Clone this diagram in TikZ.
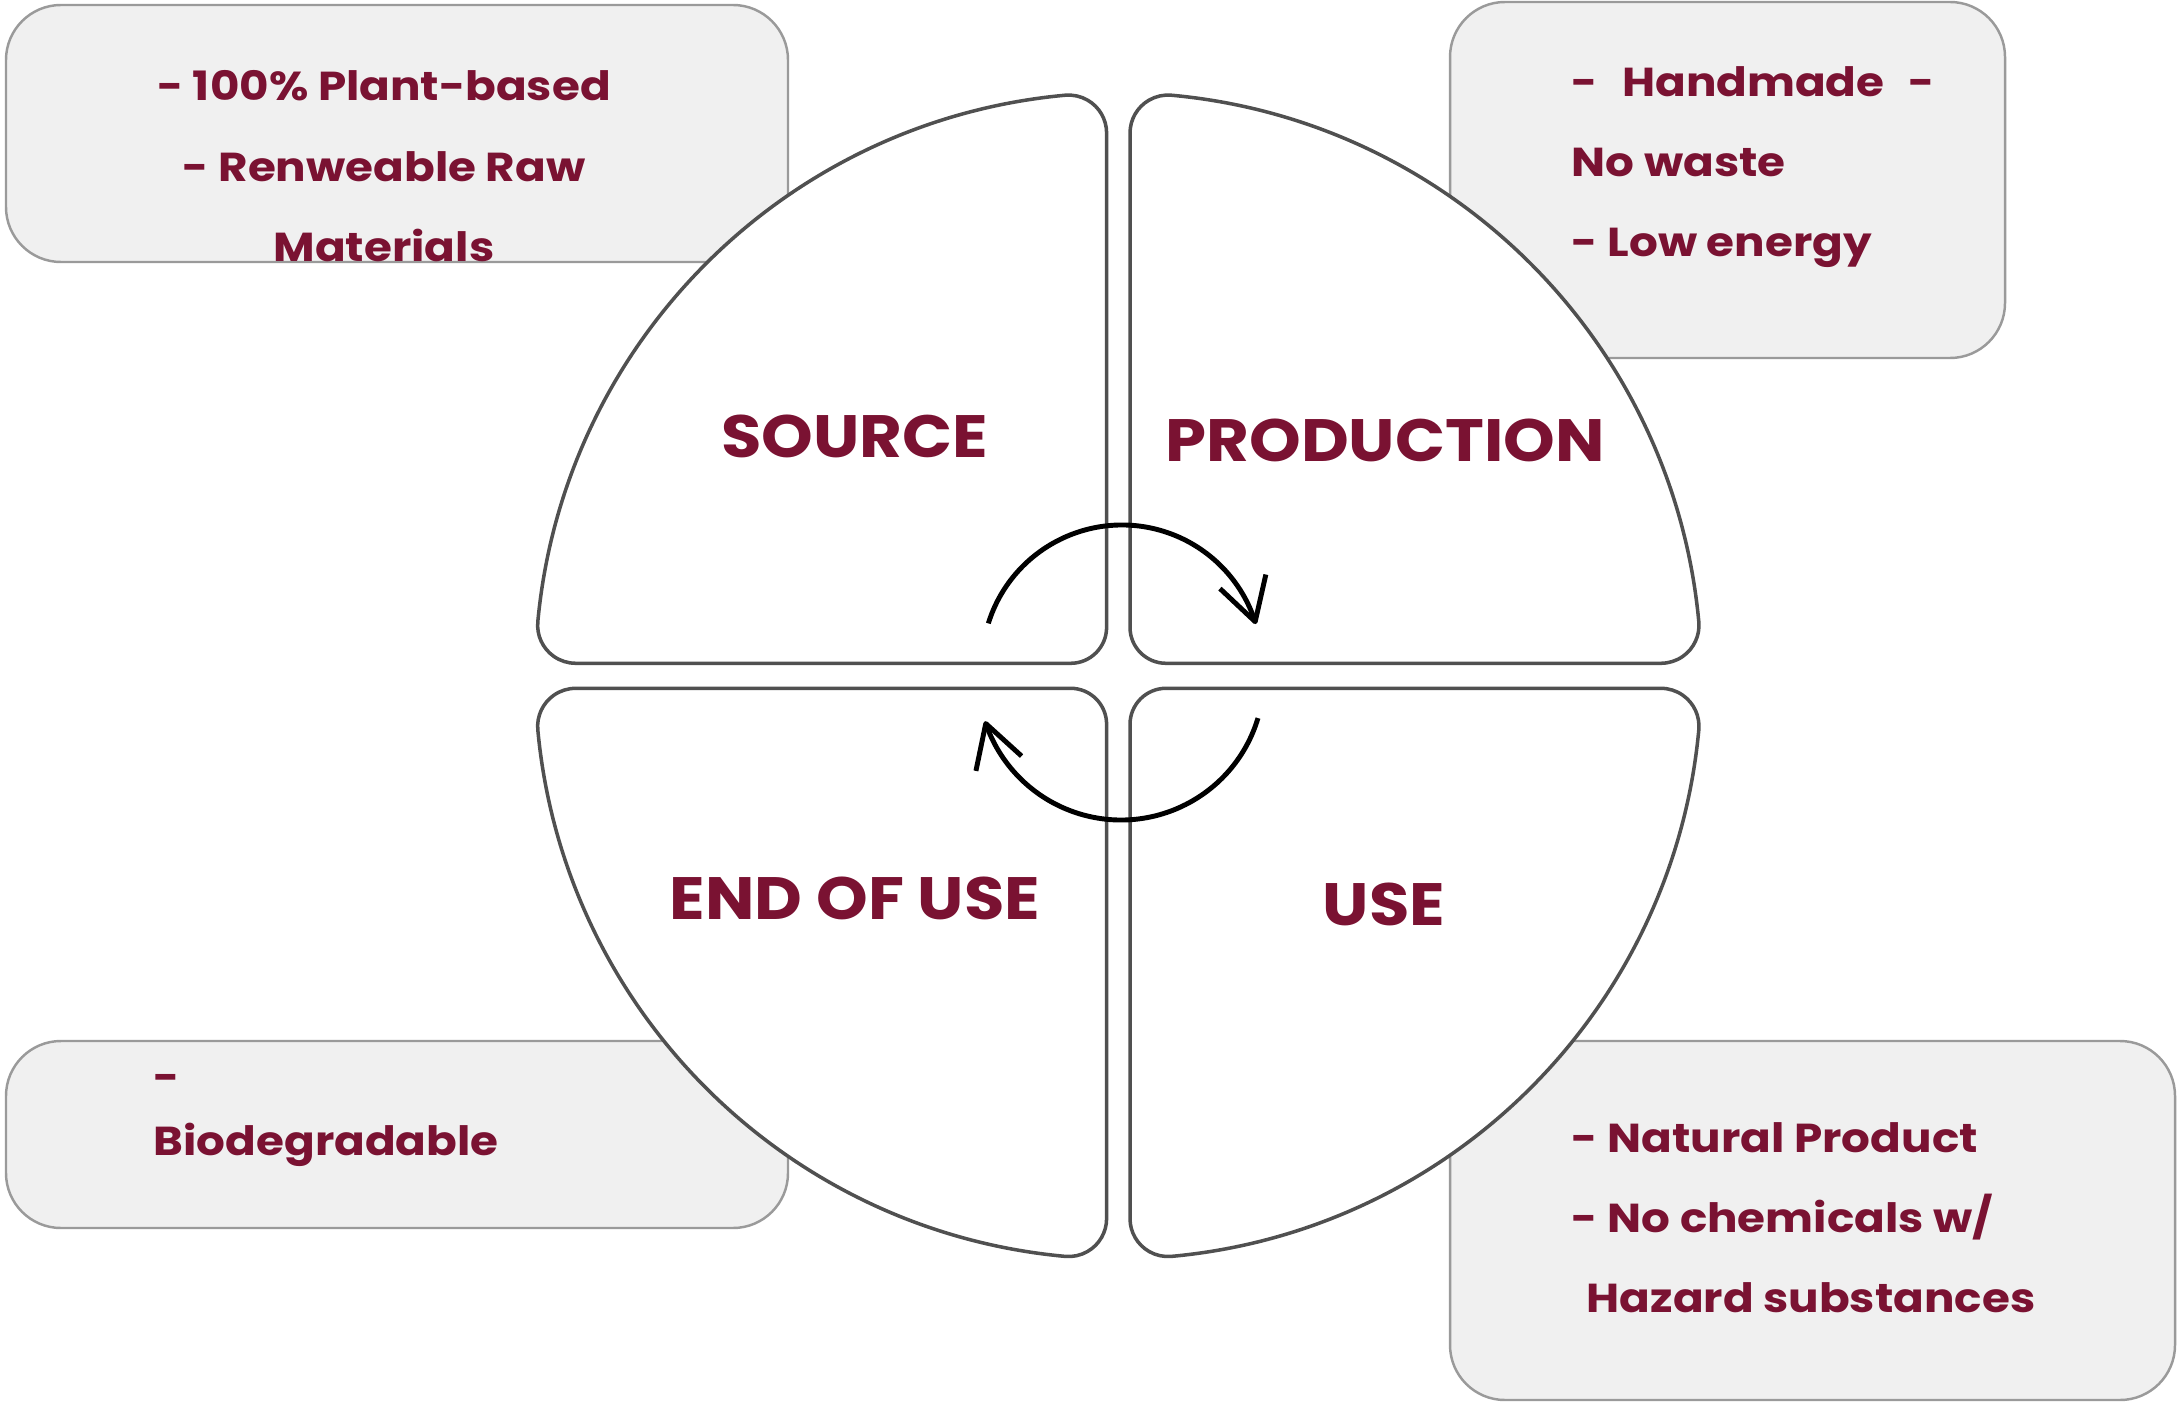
\documentclass[tikz,border=0pt]{standalone}
\usepackage{fontspec}
\setmainfont{Poppins}
\newfontfamily\widefont{Poppins}[FakeStretch=1.12]
\newfontfamily\labelfont{Poppins}[FakeStretch=1.1]
\usetikzlibrary{arrows.meta,bending}
\definecolor{maroon}{HTML}{7A1232}
\definecolor{boxfill}{HTML}{F0F0F0}
\definecolor{boxline}{HTML}{9A9A9A}
\definecolor{quadline}{HTML}{505050}
\tikzset{
  infobox/.style={draw=boxline, line width=0.7pt, fill=boxfill, rounded corners=0.55cm, inner sep=0pt},
  boxtext/.style={text=maroon, font=\widefont\fontsize{11.5}{13}\selectfont\bfseries, inner sep=0pt},
  biglabel/.style={text=maroon, font=\labelfont\fontsize{17}{20}\selectfont\bfseries, inner sep=0pt, anchor=base},
  quadrant/.style={draw=quadline, line width=1pt, fill=white},
  cyclearrow/.style={draw=black, line width=1.4pt, -{Straight Barb[length=4.2mm,width=4.8mm,line join=round]}}
}
\newcommand{\quadshape}{%
  (0.117,0.485) -- (0.117,5.4273)
  arc[start angle=180, end angle=84.77, radius=0.38]
  arc[start angle=84.77, end angle=5.317, radius=5.83]
  arc[start angle=5.317, end angle=-90, radius=0.38]
  -- (0.477,0.125)
  arc[start angle=-90, end angle=-180, radius=0.36] -- cycle}
\begin{document}
\begin{tikzpicture}
\useasboundingbox[fill=white] (0,0) rectangle (21.77,14.02);
% info boxes
\node[infobox, minimum width=7.82cm, minimum height=2.57cm] (b1) at (3.97,12.685) {};
\node[infobox, minimum width=5.55cm, minimum height=3.56cm] (b2) at (17.275,12.22) {};
\node[infobox, minimum width=7.82cm, minimum height=1.87cm] (b3) at (3.97,2.675) {};
\node[infobox, minimum width=7.25cm, minimum height=3.59cm] (b4) at (18.125,1.815) {};
% quadrants
\coordinate (c) at (11.183,7.262);
\begin{scope}[shift={(c)}]
  \path[quadrant, xscale=-1] \quadshape;
  \path[quadrant] \quadshape;
  \path[quadrant, xscale=-1, yscale=-1] \quadshape;
  \path[quadrant, yscale=-1] \quadshape;
\end{scope}
% labels
\node[biglabel] (source) at (8.545,9.44) {SOURCE};
\node[biglabel] (production) at (13.85,9.40) {PRODUCTION};
\node[biglabel] (endofuse) at (8.55,4.83) {END OF USE};
\node[biglabel] (use) at (13.84,4.77) {USE};
% cycle arrows
\coordinate (ta) at (11.22,7.37);
\coordinate (ba) at (11.21,7.25);
\draw[cyclearrow] ([shift={(162.7:1.40)}]ta) arc[start angle=162.7, end angle=17, radius=1.40];
\draw[cyclearrow] ([shift={(-16.7:1.43)}]ba) arc[start angle=-16.7, end angle=-162, radius=1.43];
% box texts
\node[boxtext, anchor=base] (t11) at (3.84,13.01) {- 100\% Plant-based};
\node[boxtext, anchor=base] (t12) at (3.84,12.20) {- Renweable Raw};
\node[boxtext, anchor=base] (t13) at (3.84,11.40) {Materials};
\node[boxtext, anchor=base west] (t21) at (15.71,13.05) {-\hspace{0.6em}Handmade\hspace{0.6em}-};
\node[boxtext, anchor=base west] (t22) at (15.71,12.25) {No waste};
\node[boxtext, anchor=base west] (t23) at (15.71,11.45) {- Low energy};
\node[boxtext, anchor=base west] (t31) at (1.53,3.11) {-};
\node[boxtext, anchor=base west] (t32) at (1.53,2.47) {Biodegradable};
\node[boxtext, anchor=base west] (t41) at (15.71,2.50) {- Natural Product};
\node[boxtext, anchor=base west] (t42) at (15.71,1.70) {- No chemicals w/};
\node[boxtext, anchor=base west] (t43) at (15.86,0.90) {Hazard substances};
\end{tikzpicture}
\end{document}
